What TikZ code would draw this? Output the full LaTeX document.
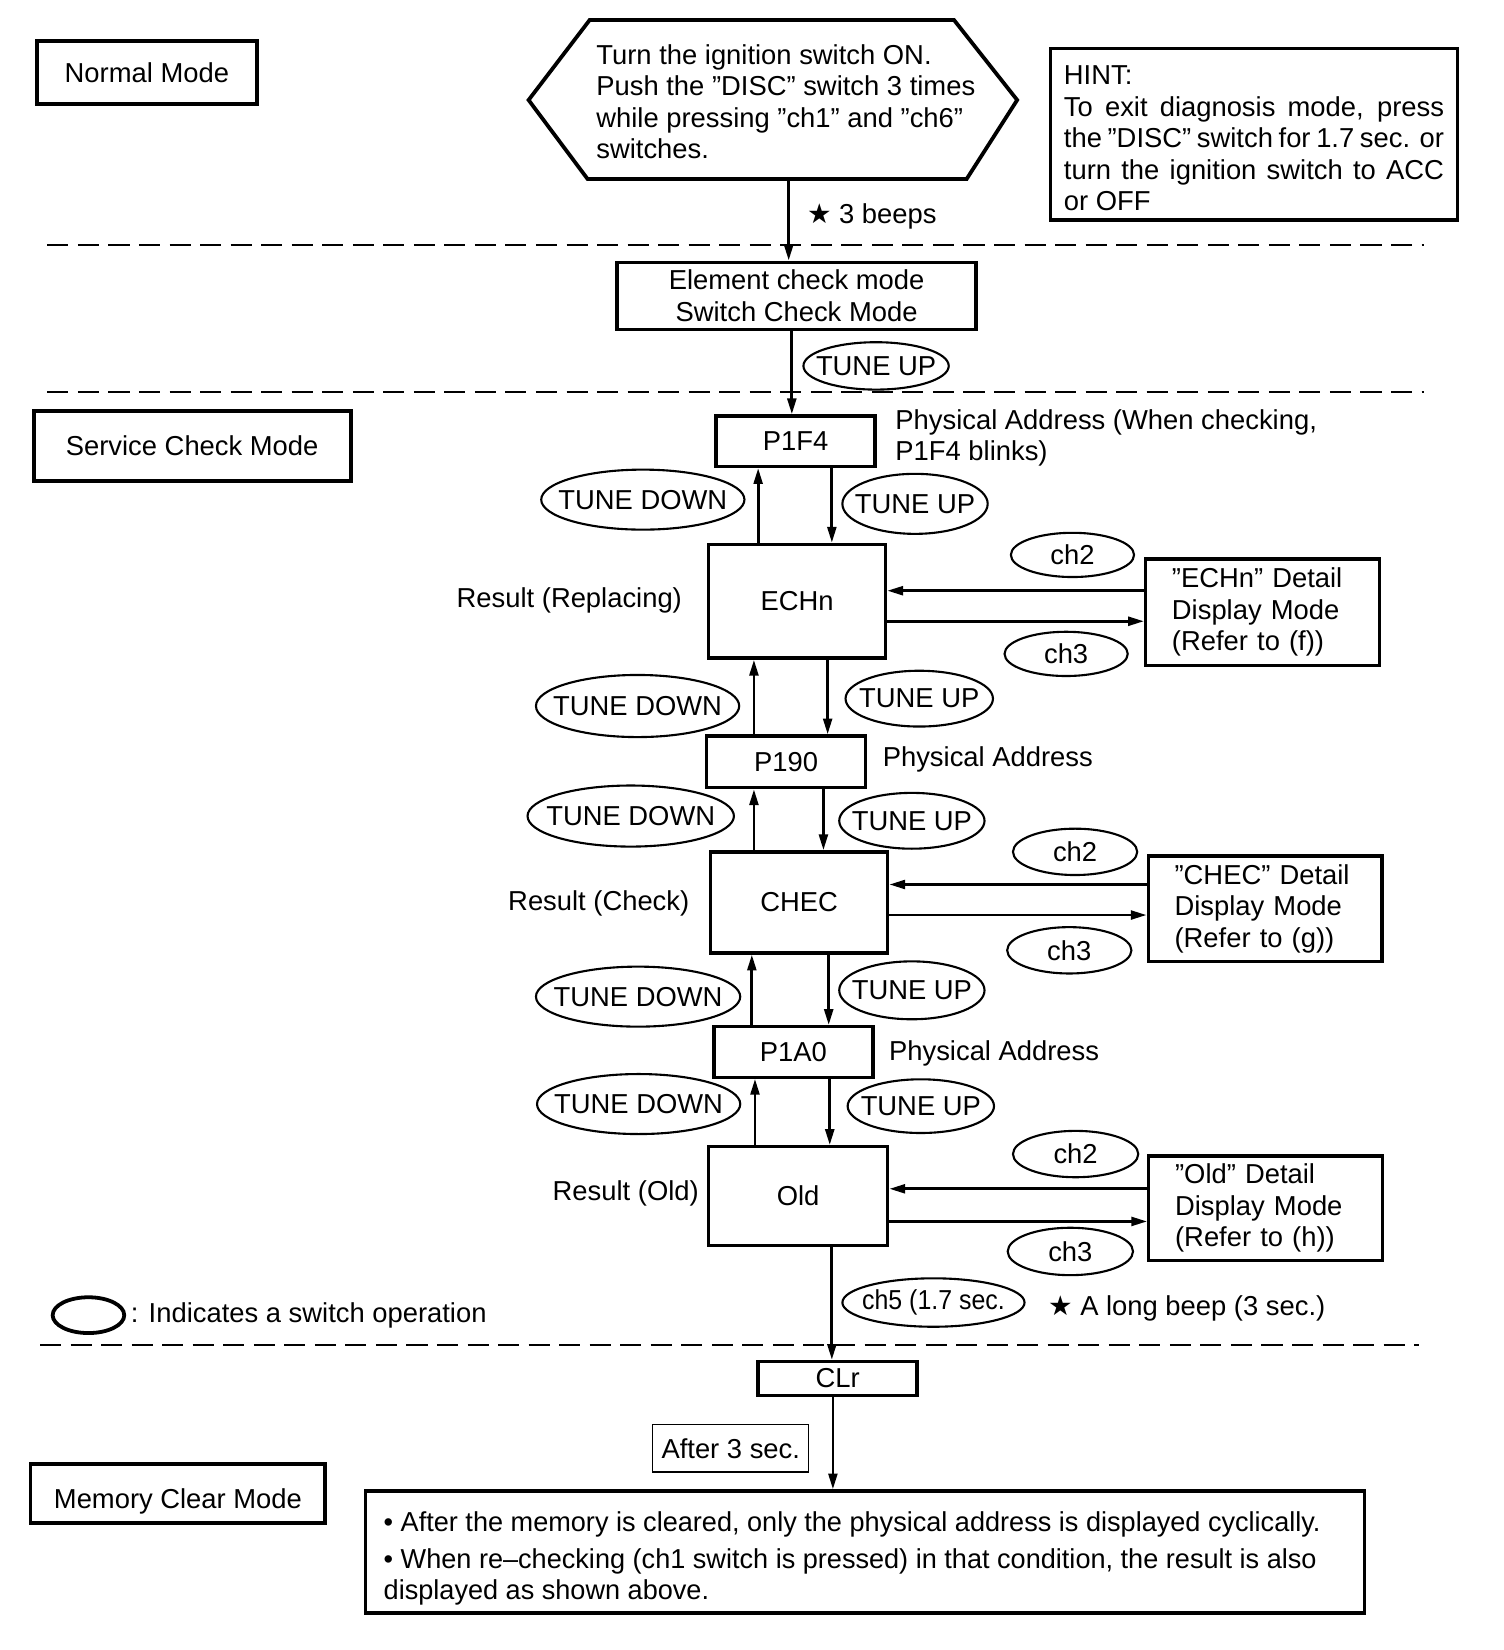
\documentclass[tikz,border=0pt]{standalone}
\usepackage{fontspec}
\setmainfont{Liberation Sans}
\newfontfamily\symfont{DejaVu Sans}
\newfontfamily\condfont[FakeStretch=0.99]{Liberation Sans}
\newfontfamily\narrowfont[FakeStretch=0.91]{Liberation Sans}
\usetikzlibrary{shapes.geometric,arrows.meta}
\begin{document}
\begin{tikzpicture}[x=0.5pt,y=-0.5pt,
 every node/.style={font=\fontsize{13}{15}\selectfont, inner sep=0pt},
 modebox/.style={draw, line width=1.8pt, align=center},
 stepbox/.style={draw, line width=1.6pt, align=center},
 detbox/.style={draw, line width=1.6pt, align=left, text width=86pt, inner xsep=12.5pt},
 sw/.style={draw, ellipse, line width=1pt, inner sep=0pt},
 arr/.style={line width=1.3pt, -{Triangle[length=7.5pt,width=4.2pt]}},
 divline/.style={line width=0.9pt, dash pattern=on 10pt off 4.5pt}]
\useasboundingbox (0,0) rectangle (1428,1567);

% mode labels
\node[modebox, minimum width=104.5pt, minimum height=30pt] (normal) at (139.5,69) {Normal Mode};
\node[modebox, minimum width=150.5pt, minimum height=33.5pt] (service) at (182.5,423.5) {Service Check Mode};
\node[modebox, minimum width=140pt, minimum height=28pt, text height=15pt, text depth=0pt] (mem) at (169,1418) {Memory Clear Mode};

% start hexagon
\node[minimum width=232pt, minimum height=75.5pt] (hex) at (734,94.5) {};
\draw[line width=1.8pt, line join=miter] (502,95) -- (560,19) -- (906,19) -- (966,95) -- (918,170) -- (558,170) -- cycle;
\node[anchor=west, align=left] (hextext) at (566,96.5) {Turn the ignition switch ON.\\Push the "DISC" switch 3 times\\while pressing "ch1" and "ch6"\\switches.};
\coordinate (hexb) at (749,170);

% hint
\node[draw, line width=1.5pt, minimum width=193pt, minimum height=81.5pt] (hint) at (1191,127.5) {};
\node[anchor=west, align=left] (hinttext) at (1010,131.5) {HINT:\\\makebox[180.5pt][s]{To exit diagnosis mode, press}\\\makebox[180.5pt][s]{the "DISC" switch for 1.7 sec. or}\\\makebox[180.5pt][s]{turn the ignition switch to ACC}\\or OFF};

\node[anchor=west] (beep3) at (766,205.5) {{\symfont ★} 3 beeps};

% separators
\draw[divline] (45,233) -- (1352,233);
\draw[divline] (45,372) -- (1352,372);
\draw[divline] (38,1277) -- (1348,1277);

% element check
\node[stepbox, minimum width=170.5pt, minimum height=32pt] (elem) at (756.5,281) {Element check mode\\Switch Check Mode};
\node[sw, minimum width=69pt, minimum height=22.5pt, label=center:{TUNE UP}] (tu0) at (832,347.5) {};

% P1F4
\node[stepbox, minimum width=75.5pt, minimum height=24pt] (p1f4) at (755.5,419) {P1F4};
\node[anchor=west, align=left] (pa1) at (850,416) {Physical Address (When checking,\\P1F4 blinks)};
\node[sw, minimum width=96.5pt, minimum height=28.5pt, label=center:{TUNE DOWN}] (td1) at (610.5,474.5) {};
\node[sw, minimum width=69pt, minimum height=28.5pt, label=center:{TUNE UP}] (tu1) at (869,478.5) {};

% ECHn
\node[stepbox, minimum width=84pt, minimum height=54pt] (echn) at (757,571) {ECHn};
\node[anchor=east] (r1) at (648,570) {Result (Replacing)};
\node[sw, minimum width=58.5pt, minimum height=21pt, label=center:{ch2}] (c2a) at (1018.5,527) {};
\node[sw, minimum width=58.5pt, minimum height=21pt, label=center:{ch3}] (c3a) at (1012.5,621) {};
\node[detbox, minimum height=50.5pt] (d1) at (1199,581.5) {"ECHn" Detail\\Display Mode\\(Refer to (f))};
\node[sw, minimum width=96.5pt, minimum height=29.5pt, label=center:{TUNE DOWN}] (td2) at (605.5,670.5) {};
\node[sw, minimum width=70pt, minimum height=26.5pt, label=center:{TUNE UP}] (tu2) at (873,663.5) {};

% P190
\node[stepbox, minimum width=75.5pt, minimum height=24.5pt] (p190) at (746.5,723.5) {P190};
\node[anchor=west] (pa2) at (838,721) {Physical Address};
\node[sw, minimum width=98pt, minimum height=29pt, label=center:{TUNE DOWN}] (td3) at (599,775) {};
\node[sw, minimum width=69pt, minimum height=26.5pt, label=center:{TUNE UP}] (tu3) at (866,779.5) {};

% CHEC
\node[stepbox, minimum width=84pt, minimum height=48pt] (chec) at (759,857) {CHEC};
\node[anchor=east] (r2) at (655,858) {Result (Check)};
\node[sw, minimum width=59pt, minimum height=22pt, label=center:{ch2}] (c2b) at (1021,809) {};
\node[sw, minimum width=59pt, minimum height=22pt, label=center:{ch3}] (c3b) at (1015.5,902.5) {};
\node[detbox, minimum height=50pt] (d2) at (1201.5,863) {"CHEC" Detail\\Display Mode\\(Refer to (g))};
\node[sw, minimum width=97pt, minimum height=28.5pt, label=center:{TUNE DOWN}] (td4) at (606,946.5) {};
\node[sw, minimum width=69pt, minimum height=27.5pt, label=center:{TUNE UP}] (tu4) at (866,940.5) {};

% P1A0
\node[stepbox, minimum width=75.5pt, minimum height=24pt] (p1a0) at (753.5,999) {P1A0};
\node[anchor=west] (pa3) at (844,1000) {Physical Address};
\node[sw, minimum width=96.5pt, minimum height=28.5pt, label=center:{TUNE DOWN}] (td5) at (606.5,1048.5) {};
\node[sw, minimum width=69.5pt, minimum height=25.5pt, label=center:{TUNE UP}] (tu5) at (874.5,1050.5) {};

% Old
\node[stepbox, minimum width=85pt, minimum height=47pt] (old) at (758,1136) {Old};
\node[anchor=east] (r3) at (664,1133) {Result (Old)};
\node[sw, minimum width=59.5pt, minimum height=22pt, label=center:{ch2}] (c2c) at (1021.5,1096) {};
\node[sw, minimum width=59.5pt, minimum height=22.5pt, label=center:{ch3}] (c3c) at (1016.5,1188.5) {};
\node[detbox, minimum height=49.5pt] (d3) at (1202,1147.5) {"Old" Detail\\Display Mode\\(Refer to (h))};

\node[sw, minimum width=86.5pt, minimum height=23pt, label={[font=\narrowfont\fontsize{13}{15}\selectfont]center:{ch5 (1.7 sec.}}] (c5) at (886.5,1237) {};
\node[anchor=west] (beepl) at (995,1243) {{\symfont ★} A long beep (3 sec.)};

% legend
\node[draw, ellipse, line width=1.8pt, minimum width=34pt, minimum height=17pt] (legend) at (84,1249) {};
\node[anchor=west] (legtext) at (124,1249) {: Indicates a switch operation};

% memory clear
\node[stepbox, minimum width=75.5pt, minimum height=16pt] (clr) at (795.5,1309) {CLr};
\node[draw, line width=0.6pt, minimum width=74pt, minimum height=22.5pt] (after) at (694,1375.5) {After 3 sec.};
\node[draw, line width=1.6pt, minimum width=474.5pt, minimum height=58pt] (final) at (821.5,1474) {};
\node[anchor=west, align=left, font=\condfont\fontsize{13}{15}\selectfont] (finaltext) at (364,1480) {• After the memory is cleared, only the physical address is displayed cyclically.\\[2.5pt]• When re–checking (ch1 switch is pressed) in that condition, the result is also\\displayed as shown above.};

% x positions of vertical connectors
\coordinate (xa) at (752,0);
\coordinate (u1) at (720,0); \coordinate (v1) at (790,0);
\coordinate (u2) at (716,0); \coordinate (v2) at (786,0);
\coordinate (u3) at (716,0); \coordinate (v3) at (782,0);
\coordinate (u4) at (714,0); \coordinate (v4) at (787,0);
\coordinate (u5) at (717,0); \coordinate (v5) at (788,0);
\coordinate (v6) at (790,0); \coordinate (v7) at (791,0);
% y positions of horizontal connectors
\coordinate (h1) at (0,561); \coordinate (h2) at (0,590);
\coordinate (h3) at (0,840); \coordinate (h4) at (0,869);
\coordinate (h5) at (0,1129); \coordinate (h6) at (0,1160);

\draw[arr] (hexb) -- (hexb |- elem.north);
\draw[arr] (xa |- elem.south) -- (xa |- p1f4.north);
\draw[arr] (u1 |- echn.north) -- (u1 |- p1f4.south);
\draw[arr] (v1 |- p1f4.south) -- (v1 |- echn.north);
\draw[arr] (u2 |- p190.north) -- (u2 |- echn.south);
\draw[arr] (v2 |- echn.south) -- (v2 |- p190.north);
\draw[arr] (u3 |- chec.north) -- (u3 |- p190.south);
\draw[arr] (v3 |- p190.south) -- (v3 |- chec.north);
\draw[arr] (u4 |- p1a0.north) -- (u4 |- chec.south);
\draw[arr] (v4 |- chec.south) -- (v4 |- p1a0.north);
\draw[arr] (u5 |- old.north) -- (u5 |- p1a0.south);
\draw[arr] (v5 |- p1a0.south) -- (v5 |- old.north);
\draw[arr] (v6 |- old.south) -- (v6 |- clr.north);
\draw[arr] (v7 |- clr.south) -- (v7 |- final.north);

\draw[arr] (d1.west |- h1) -- (echn.east |- h1);
\draw[arr] (echn.east |- h2) -- (d1.west |- h2);
\draw[arr] (d2.west |- h3) -- (chec.east |- h3);
\draw[arr] (chec.east |- h4) -- (d2.west |- h4);
\draw[arr] (d3.west |- h5) -- (old.east |- h5);
\draw[arr] (old.east |- h6) -- (d3.west |- h6);
\end{tikzpicture}
\end{document}
